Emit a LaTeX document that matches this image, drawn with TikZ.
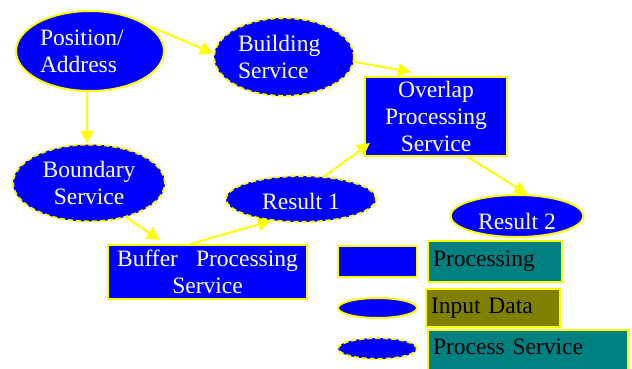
\documentclass[tikz,border=0pt]{standalone}
\usepackage{fontspec}
\setmainfont{Liberation Serif}
\usetikzlibrary{shapes.geometric,arrows.meta}
\definecolor{pblue}{RGB}{0,0,255}
\definecolor{pyellow}{RGB}{255,255,0}
\definecolor{pteal}{RGB}{0,128,128}
\definecolor{polive}{RGB}{128,128,0}
\begin{document}
\begin{tikzpicture}[x=1pt,y=-1pt,
 font=\fontsize{23.5}{27}\selectfont,
 base/.style={fill=pblue,draw=pyellow,line width=2pt,text=white,inner sep=0pt},
 dataell/.style={base,ellipse},
 procell/.style={base,ellipse,dash pattern=on 5pt off 3pt},
 procbox/.style={base,rectangle,align=center},
 conn/.style={draw=pyellow,line width=2pt,-{Triangle[length=13pt,width=13pt]}},
 legbox/.style={draw=pyellow,line width=2pt,text=black,inner xsep=5pt,inner ysep=0pt,anchor=north west,align=left}]
\useasboundingbox[fill=white] (0,0) rectangle (632,368);

\node[dataell,minimum width=148,minimum height=80,text width=100,align=left] (pos) at (90,51) {Position/\\Address};
\node[procell,minimum width=140,minimum height=78,text width=92,align=left] (bld) at (284,57) {Building\\Service};
\node[procell,minimum width=152,minimum height=77,align=center] (bnd) at (89,183) {Boundary\\Service};
\node[procell,minimum width=150,minimum height=46,text height=20pt,text depth=0pt] (res1) at (301,199) {Result 1};
\node[dataell,minimum width=133,minimum height=42,text height=26pt,text depth=0pt] (res2) at (517,216) {Result 2};
\node[procbox,minimum width=142,minimum height=79] (ovl) at (436,116.5) {Overlap\\Processing\\Service};
\node[procbox,minimum width=199,minimum height=54] (buf) at (207.5,272) {Buffer\hspace{18pt}Processing\\Service};

% legend
\node[base,rectangle,minimum width=79,minimum height=31] (lgp) at (377.5,261.5) {};
\node[dataell,minimum width=79,minimum height=20] (lgd) at (377.5,308) {};
\node[procell,minimum width=79,minimum height=21] (lgs) at (377.5,348.5) {};
\node[legbox,fill=pteal,text width=124,minimum height=41] (lgpt) at (427,240) {Processing};
\node[legbox,fill=polive,text width=124,minimum height=38] (lgdt) at (425,288) {Input Data};
\node[legbox,fill=pteal,text width=190,minimum height=46,text height=15pt,text depth=13pt] (lgst) at (427,329) {Process Service};

% connectors
\draw[conn] (pos.22) -- (bld.177);
\draw[conn] (bld.-4) -- ([xshift=47pt,yshift=4pt]ovl.north west);
\draw[conn] ([xshift=-3pt]pos.south) -- ([xshift=-2pt]bnd.north);
\draw[conn] (bnd.-43) -- ([xshift=53pt,yshift=4pt]buf.north west);
\draw[conn] ([xshift=83pt]buf.north west) -- (res1.216);
\draw[conn] (res1.44) -- ([xshift=6pt,yshift=14pt]ovl.south west);
\draw[conn] ([xshift=104pt]ovl.south west) -- (res2.65);
\end{tikzpicture}
\end{document}
